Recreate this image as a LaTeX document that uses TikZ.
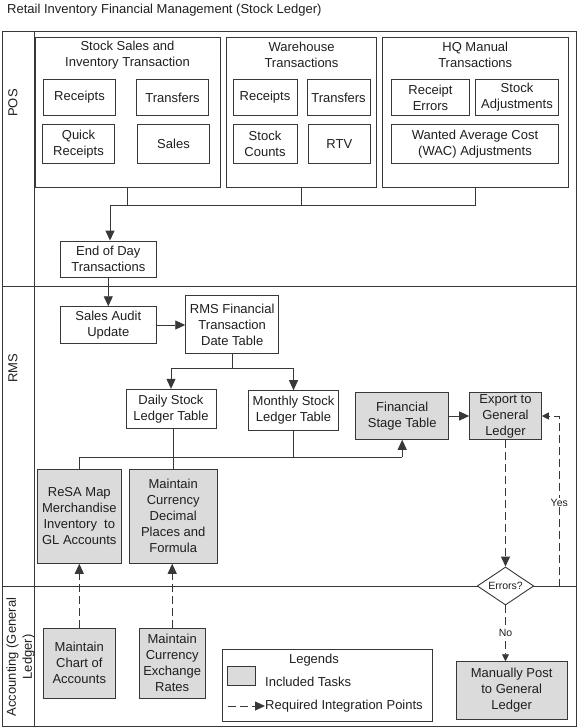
\documentclass[tikz,border=0pt]{standalone}
\usepackage{fontspec}
\setmainfont{Liberation Sans}
\usetikzlibrary{shapes.geometric,arrows.meta}
\begin{document}
\begin{tikzpicture}[x=1pt,y=-1pt,
  every node/.style={font=\fontsize{13}{16}\selectfont, text=black!88},
  ln/.style={draw=black!78, line width=0.9pt},
  box/.style={ln, rectangle, align=center, inner sep=1pt, fill=white},
  gbox/.style={box, fill=black!14},
  grp/.style={ln, rectangle, inner sep=0pt},
  arr/.style={ln, -{Triangle[length=10pt,width=9pt]}},
  darr/.style={arr, dash pattern=on 8pt off 4pt},
  sdarr/.style={ln, dash pattern=on 8pt off 4pt, -{Triangle[length=7pt,width=7pt]}},
  smalltxt/.style={font=\fontsize{10.5}{12}\selectfont},
]
\useasboundingbox (0,0) rectangle (578,728);

% title
\node[anchor=west, inner sep=0pt] (title) at (7,10) {Retail Inventory Financial Management (Stock Ledger)};

% swimlane frame
\coordinate (fTL) at (2.5,31.5);
\coordinate (fBR) at (576,726);
\draw[ln] (fTL) rectangle (fBR);
\coordinate (dTop) at (34.5,31.5);
\coordinate (dBot) at (34.5,726);
\draw[ln] (dTop) -- (dBot);
\coordinate (l1L) at (2.5,286);
\coordinate (l1R) at (576,286);
\coordinate (l2L) at (2.5,586);
\coordinate (l2R) at (576,586);
\draw[ln] (l1L) -- (l1R);
\draw[ln] (l2L) -- (l2R);

\node[rotate=90] (lpos) at (13,103) {POS};
\node[rotate=90] (lrms) at (13,368) {RMS};
\node[rotate=90, align=center] (lacc) at (20.5,657) {Accounting (General\\Ledger)};

% POS groups
\node[grp, minimum width=185pt, minimum height=150pt] (g1) at (127.5,112) {};
\node[align=center] (g1t) at (127.5,55) {Stock Sales and\\Inventory Transaction};
\node[grp, minimum width=150pt, minimum height=150pt] (g2) at (301.5,112) {};
\node[align=center] (g2t) at (301.5,55) {Warehouse\\Transactions};
\node[grp, minimum width=185.5pt, minimum height=150pt] (g3) at (475.25,112) {};
\node[align=center] (g3t) at (475.25,55) {HQ Manual\\Transactions};

\node[box, minimum width=72pt, minimum height=36pt] (rec1) at (79.5,97.5) {Receipts};
\node[box, minimum width=72pt, minimum height=36pt] (trf1) at (172.5,97.5) {Transfers};
\node[box, minimum width=72pt, minimum height=39pt] (qrec) at (78.5,144) {Quick\\Receipts};
\node[box, minimum width=72pt, minimum height=39pt] (sales) at (173.5,144) {Sales};

\node[box, minimum width=64pt, minimum height=36pt] (rec2) at (265,97.5) {Receipts};
\node[box, minimum width=63pt, minimum height=36pt] (trf2) at (338.5,97.5) {Transfers};
\node[box, minimum width=64pt, minimum height=39pt] (scnt) at (265,144) {Stock\\Counts};
\node[box, minimum width=62pt, minimum height=39pt] (rtv) at (339.3,144) {RTV};

\node[box, minimum width=78.4pt, minimum height=36pt] (rerr) at (430.5,97.5) {Receipt\\Errors};
\node[box, minimum width=83.4pt, minimum height=36pt] (sadj) at (517,97.5) {Stock\\Adjustments};
\node[box, minimum width=167.4pt, minimum height=39pt] (wac) at (475,144) {Wanted Average Cost\\(WAC) Adjustments};

\node[box, minimum width=96pt, minimum height=36pt] (eod) at (108.3,259) {End of Day\\Transactions};

\coordinate (bus1) at (110,205);
\draw[ln] (g1.south) -- (g1.south |- bus1);
\draw[ln] (g2.south) -- (g2.south |- bus1);
\draw[ln] (g3.south) -- (g3.south |- bus1) -- (bus1);
\draw[arr] (bus1) -- (bus1 |- eod.north);

% RMS lane
\node[box, minimum width=96pt, minimum height=36.6pt] (sau) at (108.3,325) {Sales Audit\\Update};
\node[box, minimum width=93pt, minimum height=57.6pt] (rmsft) at (232.2,324.5) {RMS Financial\\Transaction\\Date Table};
\node[box, minimum width=90pt, minimum height=39pt] (daily) at (171,408.8) {Daily Stock\\Ledger Table};
\node[box, minimum width=89.6pt, minimum height=39.3pt] (monthly) at (293.5,410.3) {Monthly Stock\\Ledger Table};
\node[gbox, minimum width=84pt, minimum height=94pt] (resa) at (79.3,516.3) {ReSA Map\\Merchandise\\Inventory\ \ to\\GL Accounts};
\node[gbox, minimum width=88.3pt, minimum height=94pt] (mcd) at (173.2,516.3) {Maintain\\Currency\\Decimal\\Places and\\Formula};
\node[gbox, minimum width=93pt, minimum height=46.6pt] (fst) at (402.2,416) {Financial\\Stage Table};
\node[gbox, minimum width=71.7pt, minimum height=46.6pt, inner sep=0pt] (exp) at (505.5,416) {Export to\\General\\Ledger};
\node[diamond, ln, fill=white, inner sep=0pt, shape aspect=1.5, minimum width=56.6pt, minimum height=38pt, smalltxt] (err) at (505.5,586) {Errors?};

\draw[arr] (eod.south) -- (sau.north);
\draw[arr] (sau.east) -- (sau.east -| rmsft.west);

\coordinate (bus2) at (232.2,368.3);
\draw[ln] (rmsft.south) -- (bus2);
\draw[arr] (bus2) -| (daily.north);
\draw[arr] (bus2) -| (monthly.north);

\coordinate (bus3) at (79.3,457.3);
\draw[ln] (daily.south) -- (mcd.north |- daily.south) -- (mcd.north);
\draw[ln] (monthly.south) -- (monthly.south |- bus3);
\draw[ln] (resa.north) -- (bus3) -- (bus3 -| fst.south);
\draw[arr] (bus3 -| fst.south) -- (fst.south);
\draw[arr] (fst.east) -- (exp.west);

\coordinate (yesc) at (559.3,586);
\draw[darr] (exp.south) -- (err.north);
\draw[sdarr] (err.east) -- (yesc) -- (yesc |- exp.east) -- (exp.east);
\node[smalltxt, fill=white, inner sep=1pt] (yes) at (559.3,502.7) {Yes};

% Accounting lane
\node[gbox, minimum width=111.3pt, minimum height=57.6pt] (mp) at (511.7,690.5) {Manually Post\\to General\\Ledger};
\draw[sdarr] (err.south) -- (err.south |- mp.north);
\node[smalltxt, fill=white, inner sep=1pt] (no) at (505.5,632.7) {No};

\node[gbox, minimum width=72pt, minimum height=70pt] (chart) at (79.3,663.3) {Maintain\\Chart of\\Accounts};
\node[gbox, minimum width=66.3pt, minimum height=70pt, inner sep=0pt] (exr) at (172.2,663.3) {Maintain\\Currency\\Exchange\\Rates};
\draw[darr] (chart.north) -- (chart.north |- resa.south);
\draw[darr] (exr.north) -- (exr.north |- mcd.south);

% legend
\node[grp, minimum width=210pt, minimum height=72.7pt] (leg) at (327.7,685.3) {};
\node (legt) at (314,660) {Legends};
\node[gbox, minimum width=27.3pt, minimum height=18.3pt, inner sep=0pt] (legbox) at (241.3,675.8) {};
\node[anchor=west, inner sep=0pt] (legi) at (265,681.7) {Included Tasks};
\coordinate (lega) at (227.7,706);
\node[anchor=west, inner sep=0pt] (legr) at (265,706) {Required Integration Points};
\draw[darr] (lega) -- (legr.west);
\end{tikzpicture}
\end{document}
